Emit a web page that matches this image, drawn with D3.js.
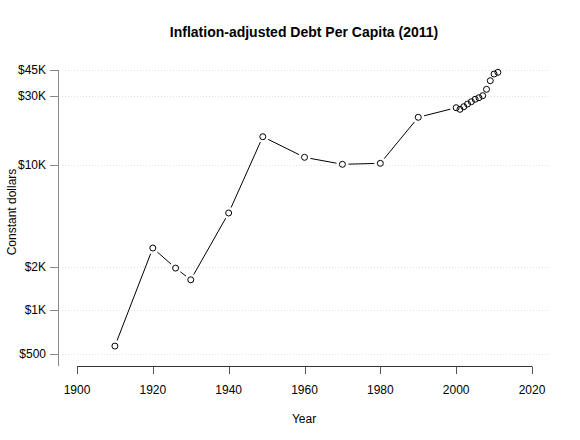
<!DOCTYPE html>
<html>
<head>
<meta charset="utf-8">
<script src="https://cdn.jsdelivr.net/npm/d3@7"></script>
<style>
  body { margin: 0; background: #fff; }
  text { font-family: 'Liberation Sans', Arial, sans-serif; }
</style>
</head>
<body>
<div id="chart"></div>
<script>
const years = [1910, 1920, 1926, 1930, 1940, 1949, 1960, 1970, 1980, 1990,
  2000, 2001, 2002, 2003, 2004, 2005, 2006, 2007, 2008, 2009, 2010, 2011]
const debt = [567, 2680, 1950, 1620, 4670, 15640, 11280, 10100, 10260, 21270,
  24760, 24140, 25160, 26240, 27230, 28290, 29010, 29950, 33140, 37980, 42230, 43390]
const yTicks = [500, 1000, 2000, 10000, 30000, 45000]
const yTickLabels = ['$500', '$1K', '$2K', '$10K', '$30K', '$45K']
const xTicks = [1900, 1920, 1940, 1960, 1980, 2000, 2020]

const width = 580
const height = 440

const svg = d3
  .select('#chart')
  .append('svg')
  .attr('width', width)
  .attr('height', height)

const x = d3.scaleLinear().domain([1900, 2020]).range([77, 532])
const y = d3.scaleLog().domain([500, 45000]).range([354, 70])

const data = years.map((yr, i) => ({ year: yr, value: debt[i] }))

// grid lines
svg
  .selectAll('.grid')
  .data(yTicks)
  .enter()
  .append('line')
  .attr('class', 'grid')
  .attr('x1', 62)
  .attr('x2', 550)
  .attr('y1', d => Math.round(y(d)) + 0.5)
  .attr('y2', d => Math.round(y(d)) + 0.5)
  .attr('stroke', '#e2e2e2')
  .attr('stroke-width', 1)
  .attr('stroke-dasharray', '1,2')

// y axis
svg
  .append('line')
  .attr('x1', 58.5)
  .attr('x2', 58.5)
  .attr('y1', y(45000))
  .attr('y2', 366)
  .attr('stroke', '#888')

svg
  .selectAll('.ytick')
  .data(yTicks)
  .enter()
  .append('line')
  .attr('x1', 50)
  .attr('x2', 58.5)
  .attr('y1', d => Math.round(y(d)) + 0.5)
  .attr('y2', d => Math.round(y(d)) + 0.5)
  .attr('stroke', '#888')

svg
  .selectAll('.ylab')
  .data(yTicks)
  .enter()
  .append('text')
  .attr('x', 46)
  .attr('y', d => y(d))
  .attr('dy', '0.35em')
  .attr('text-anchor', 'end')
  .attr('font-size', 12)
  .attr('fill', '#000')
  .text((d, i) => yTickLabels[i])

// x axis
svg
  .append('line')
  .attr('x1', x(1900))
  .attr('x2', x(2020))
  .attr('y1', 366.5)
  .attr('y2', 366.5)
  .attr('stroke', '#333')

svg
  .selectAll('.xtick')
  .data(xTicks)
  .enter()
  .append('line')
  .attr('x1', d => Math.round(x(d)) + 0.5)
  .attr('x2', d => Math.round(x(d)) + 0.5)
  .attr('y1', 366.5)
  .attr('y2', 374)
  .attr('stroke', '#555')

svg
  .selectAll('.xlab')
  .data(xTicks)
  .enter()
  .append('text')
  .attr('x', d => x(d))
  .attr('y', 394)
  .attr('text-anchor', 'middle')
  .attr('font-size', 12)
  .text(d => d)

// connecting segments with gaps at points (type = "b")
const gap = 6
const segs = []
for (let i = 0; i < data.length - 1; i++) {
  const x1 = x(data[i].year), y1 = y(data[i].value)
  const x2 = x(data[i + 1].year), y2 = y(data[i + 1].value)
  const dx = x2 - x1, dy = y2 - y1
  const len = Math.sqrt(dx * dx + dy * dy)
  if (len > gap * 2 + 1) {
    segs.push({
      x1: x1 + dx / len * gap,
      y1: y1 + dy / len * gap,
      x2: x2 - dx / len * gap,
      y2: y2 - dy / len * gap
    })
  }
}

svg
  .selectAll('.seg')
  .data(segs)
  .enter()
  .append('line')
  .attr('x1', d => d.x1)
  .attr('y1', d => d.y1)
  .attr('x2', d => d.x2)
  .attr('y2', d => d.y2)
  .attr('stroke', '#000')
  .attr('stroke-width', 1)

svg
  .selectAll('circle')
  .data(data)
  .enter()
  .append('circle')
  .attr('cx', d => x(d.year))
  .attr('cy', d => y(d.value))
  .attr('r', 3)
  .attr('fill', 'none')
  .attr('stroke', '#000')
  .attr('stroke-width', 1)

// titles
svg
  .append('text')
  .attr('x', 304)
  .attr('y', 37)
  .attr('text-anchor', 'middle')
  .attr('font-size', 14)
  .attr('font-weight', 'bold')
  .text('Inflation-adjusted Debt Per Capita (2011)')

svg
  .append('text')
  .attr('x', 304)
  .attr('y', 423)
  .attr('text-anchor', 'middle')
  .attr('font-size', 12)
  .text('Year')

svg
  .append('text')
  .attr('transform', 'translate(16,212) rotate(-90)')
  .attr('text-anchor', 'middle')
  .attr('font-size', 12)
  .text('Constant dollars')
</script>
</body>
</html>
